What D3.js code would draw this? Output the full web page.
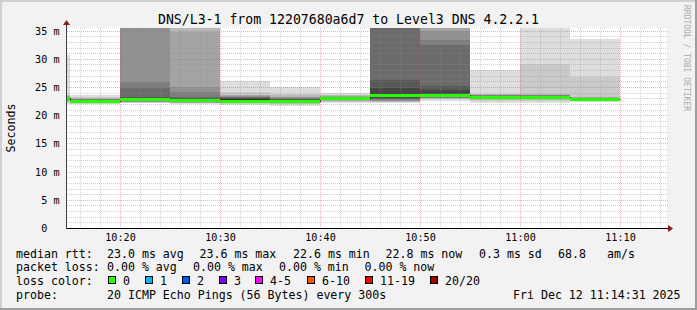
<!DOCTYPE html>
<html>
<head>
<meta charset="utf-8">
<script src="https://cdn.jsdelivr.net/npm/d3@7"></script>
<style>
  body { margin: 0; background: #f2f2f2; }
  svg text { font-family: 'DejaVu Sans Mono', monospace; white-space: pre; fill: #000; }
</style>
</head>
<body>
<svg id="chart" width="697" height="310"></svg>
<script>
// one entry per 5 minute step (end time of the step)
var binEnds = ['10:15:00', '10:20:00', '10:25:00', '10:30:00', '10:35:00', '10:40:00',
               '10:45:00', '10:50:00', '10:55:00', '11:00:00', '11:05:00', '11:10:00'];

// median rtt per step, ms
var medianRtt = [23.0, 22.6, 22.85, 22.7, 22.6, 22.6, 23.05, 23.6, 23.55, 23.3, 23.3, 22.8];

// lost pings per step (out of 20)
var lossCount = [0, 0, 0, 0, 0, 0, 0, 0, 0, 0, 0, 0];

// the 20 sorted ping times of every step, ms (values above the chart top are off scale)
var pingsSorted = [
  [21.9, 22.2, 22.4, 22.55, 22.65, 22.75, 22.8, 22.85, 22.9, 22.95, 23.0, 23.05, 23.1, 23.15, 23.2, 23.3, 23.4, 23.5, 23.6, 30.7],
  [21.9, 22.0, 22.1, 22.2, 22.3, 22.35, 22.4, 22.45, 22.5, 22.55, 22.6, 22.65, 22.7, 22.75, 22.8, 22.85, 22.95, 23.05, 23.2, 23.5],
  [22.1, 22.2, 22.3, 22.35, 22.4, 22.45, 22.5, 22.55, 22.6, 22.75, 22.95, 23.1, 23.3, 24.8, 25.9, 38, 40, 42, 45, 50],
  [22.0, 22.1, 22.2, 22.25, 22.3, 22.4, 22.45, 22.5, 22.55, 22.6, 22.75, 22.9, 23.05, 23.3, 24.1, 25.0, 34.7, 38, 42, 46],
  [21.8, 22.0, 22.15, 22.25, 22.35, 22.4, 22.45, 22.5, 22.55, 22.65, 22.9, 23.0, 23.1, 23.2, 23.3, 23.4, 23.5, 23.6, 24.2, 26.1],
  [21.7, 21.9, 22.05, 22.2, 22.3, 22.35, 22.4, 22.45, 22.5, 22.55, 22.65, 22.75, 22.85, 22.95, 23.05, 23.15, 23.3, 23.5, 23.8, 25.05],
  [22.1, 22.3, 22.45, 22.6, 22.7, 22.8, 22.85, 22.9, 22.95, 23.0, 23.05, 23.1, 23.15, 23.2, 23.25, 23.3, 23.4, 23.5, 23.65, 23.9],
  [22.1, 22.3, 22.4, 22.5, 22.6, 22.75, 22.85, 22.95, 23.1, 23.5, 24.0, 24.8, 26.2, 38, 40, 42, 44, 46, 48, 50],
  [22.5, 22.8, 22.9, 23.0, 23.05, 23.1, 23.15, 23.2, 23.3, 23.45, 23.7, 24.4, 25.2, 32.4, 33.3, 35.0, 38, 40, 43, 46],
  [22.2, 22.5, 22.7, 22.8, 22.9, 23.0, 23.05, 23.1, 23.15, 23.2, 23.3, 23.35, 23.4, 23.45, 23.5, 23.55, 23.6, 23.7, 23.8, 28.0],
  [22.2, 22.5, 22.7, 22.8, 22.9, 23.0, 23.05, 23.1, 23.15, 23.2, 23.3, 23.35, 23.4, 23.45, 23.5, 23.55, 23.6, 23.75, 29.0, 35.4],
  [22.3, 22.45, 22.55, 22.6, 22.65, 22.7, 22.72, 22.75, 22.78, 22.8, 22.85, 22.9, 22.95, 23.0, 23.05, 23.1, 23.2, 23.3, 26.8, 33.5]
];

var yTicks = [0, 5, 10, 15, 20, 25, 30, 35];

var lossLabels = ['0', '1', '2', '3', '4-5', '6-10', '11-19', '20/20'];
var lossColors = ['#26ff00', '#00b8ff', '#0059ff', '#7e00ff', '#ff00ff', '#ff5500', '#ff0000', '#a10000'];
var lossUpper = [0, 1, 2, 3, 5, 10, 19, 20];

var titleText = 'DNS/L3-1 from 12207680a6d7 to Level3 DNS 4.2.2.1';
var rttStats = ['23.0 ms avg', '23.6 ms max', '22.6 ms min', '22.8 ms now', '0.3 ms sd', '68.8', 'am/s'];
var lossStats = ['0.00 % avg', '0.00 % max', '0.00 % min', '0.00 % now'];
var probeText = '20 ICMP Echo Pings (56 Bytes) every 300s';
var stampText = 'Fri Dec 12 11:14:31 2025';

var parseTime = d3.timeParse('%H:%M:%S');
var W = 697, H = 310;
var pLeft = 67, pRight = 667, pTop = 28, pBottom = 228;

var x = d3.scaleTime()
    .domain([parseTime('10:14:40'), parseTime('11:14:40')])
    .range([pLeft, pRight]);
var y = d3.scaleLinear()
    .domain([0, 35.46])
    .range([pBottom, pTop]);

var svg = d3.select('#chart');

//Frame like rrdtool draws it
svg.append('rect').attr('width', W).attr('height', H).attr('fill', '#f2f2f2');
svg.append('rect').attr('width', W).attr('height', 2).attr('fill', '#cfcfcf');
svg.append('rect').attr('width', 2).attr('height', H).attr('fill', '#cfcfcf');
svg.append('rect').attr('y', H - 2).attr('width', W).attr('height', 2).attr('fill', '#9e9e9e');
svg.append('rect').attr('x', W - 2).attr('width', 2).attr('height', H).attr('fill', '#9e9e9e');

svg.append('defs').append('clipPath').attr('id', 'plotClip')
    .append('rect').attr('x', pLeft).attr('y', pTop).attr('width', pRight - pLeft).attr('height', pBottom - pTop);

svg.append('rect')
    .attr('x', pLeft).attr('y', pTop)
    .attr('width', pRight - pLeft).attr('height', pBottom - pTop)
    .attr('fill', '#ffffff');

function smokeShade(ibot) {
    var c = Math.floor(190 / 10 * (10 - ibot)) + 50;
    return d3.rgb(c, c, c).toString();
}

//Smoke: pairs of pings from the outside in, darker towards the middle
var bands = [];
pingsSorted.forEach(function(p, i) {
    var t1 = parseTime(binEnds[i]);
    var t0 = d3.timeMinute.offset(t1, -5);
    for (var ib = 1; ib <= p.length / 2; ib++) {
        bands.push({ t0: t0, t1: t1, lo: p[ib - 1], hi: p[p.length - ib], shade: smokeShade(ib) });
    }
});

var plot = svg.append('g').attr('clip-path', 'url(#plotClip)');

plot.selectAll('.smoke')
    .data(bands)
    .enter().append('rect')
    .attr('class', 'smoke')
    .attr('x', function(d) { return Math.round(x(d.t0)); })
    .attr('width', function(d) { return Math.round(x(d.t1)) - Math.round(x(d.t0)); })
    .attr('y', function(d) { return Math.round(y(d.hi)); })
    .attr('height', function(d) { return Math.round(y(d.lo)) - Math.round(y(d.hi)); })
    .attr('fill', function(d) { return d.shade; });

//Median: thin dark step line with a loss coloured band over it
var medPts = [{ t: d3.timeMinute.offset(parseTime(binEnds[0]), -5), v: medianRtt[0] }];
binEnds.forEach(function(b, i) { medPts.push({ t: parseTime(b), v: medianRtt[i] }); });

plot.append('path')
    .attr('d', d3.line()
        .curve(d3.curveStepBefore)
        .x(function(d) { return Math.round(x(d.t)) + 0.5; })
        .y(function(d) { return Math.round(y(d.v)) + 0.5; })(medPts))
    .attr('fill', 'none')
    .attr('stroke', '#202020')
    .attr('stroke-width', 1);

function lossColor(n) {
    for (var i = 0; i < lossUpper.length; i++) {
        if (n <= lossUpper[i]) return lossColors[i];
    }
    return lossColors[lossColors.length - 1];
}

plot.selectAll('.median')
    .data(binEnds)
    .enter().append('rect')
    .attr('class', 'median')
    .attr('x', function(d) { return Math.round(x(d3.timeMinute.offset(parseTime(d), -5))); })
    .attr('width', function(d) { return Math.round(x(parseTime(d))) - Math.round(x(d3.timeMinute.offset(parseTime(d), -5))); })
    .attr('y', function(d, i) { return Math.round(y(medianRtt[i])) - 1; })
    .attr('height', 3)
    .attr('fill', function(d, i) { return lossColor(lossCount[i]); });

//Grid on top, dotted
var grid = svg.append('g');
var minorY = d3.range(1, 36, 1).filter(function(v) { return v % 5 !== 0; });
var majorT = x.ticks(d3.timeMinute.every(10));
var minorT = x.ticks(d3.timeMinute.every(2)).filter(function(t) { return t.getMinutes() % 10 !== 0; });

grid.selectAll('.hminor').data(minorY).enter().append('line')
    .attr('x1', pLeft).attr('x2', pRight + 1)
    .attr('y1', function(d) { return Math.round(y(d)) + 0.5; })
    .attr('y2', function(d) { return Math.round(y(d)) + 0.5; })
    .attr('stroke', 'rgba(143,143,143,0.4)').attr('stroke-dasharray', '1,1');
grid.selectAll('.vminor').data(minorT).enter().append('line')
    .attr('y1', pTop).attr('y2', pBottom)
    .attr('x1', function(d) { return Math.round(x(d)) + 0.5; })
    .attr('x2', function(d) { return Math.round(x(d)) + 0.5; })
    .attr('stroke', 'rgba(143,143,143,0.4)').attr('stroke-dasharray', '1,1');
grid.selectAll('.hmajor').data(yTicks.slice(1)).enter().append('line')
    .attr('x1', pLeft).attr('x2', pRight + 1)
    .attr('y1', function(d) { return Math.round(y(d)) + 0.5; })
    .attr('y2', function(d) { return Math.round(y(d)) + 0.5; })
    .attr('stroke', 'rgba(222,80,80,0.45)').attr('stroke-dasharray', '1,1');
grid.selectAll('.vmajor').data(majorT).enter().append('line')
    .attr('y1', pTop).attr('y2', pBottom)
    .attr('x1', function(d) { return Math.round(x(d)) + 0.5; })
    .attr('x2', function(d) { return Math.round(x(d)) + 0.5; })
    .attr('stroke', 'rgba(222,80,80,0.45)').attr('stroke-dasharray', '1,1');

//Axes with arrow heads
svg.append('line').attr('x1', pLeft - 1).attr('x2', pRight + 2)
    .attr('y1', pBottom + 0.5).attr('y2', pBottom + 0.5).attr('stroke', '#000');
svg.append('line').attr('x1', pLeft - 0.5).attr('x2', pLeft - 0.5)
    .attr('y1', pBottom + 1).attr('y2', pTop - 4).attr('stroke', '#404040');
svg.append('path').attr('d', 'M' + (pRight + 1) + ',' + (pBottom - 3) + 'L' + (pRight + 6) + ',' + (pBottom + 0.5) + 'L' + (pRight + 1) + ',' + (pBottom + 4) + 'Z')
    .attr('fill', '#8b1a1a');
svg.append('path').attr('d', 'M' + (pLeft - 4) + ',' + (pTop - 3) + 'L' + (pLeft - 0.5) + ',' + (pTop - 8) + 'L' + (pLeft + 3) + ',' + (pTop - 3) + 'Z')
    .attr('fill', '#8b1a1a');

//Tick labels
svg.selectAll('.ylab').data(yTicks).enter().append('text')
    .attr('x', 59.5)
    .attr('y', function(d) { return Math.round(y(d)) + 4; })
    .attr('text-anchor', 'end')
    .style('font-size', '10.15px')
    .text(function(d) { return d === 0 ? '0  ' : d + ' m'; });

svg.selectAll('.xlab').data(majorT).enter().append('text')
    .attr('x', function(d) { return Math.round(x(d)) + 0.5; })
    .attr('y', 241)
    .attr('text-anchor', 'middle')
    .style('font-size', '10.15px')
    .text(d3.timeFormat('%H:%M'));

svg.append('text')
    .attr('x', W / 2).attr('y', 24)
    .attr('text-anchor', 'middle')
    .style('font-size', '13.2px')
    .text(titleText);

svg.append('text')
    .attr('transform', 'translate(15,128) rotate(-90)')
    .attr('text-anchor', 'middle')
    .style('font-size', '11.6px')
    .text('Seconds');

svg.append('text')
    .attr('transform', 'translate(684,5) rotate(90)')
    .style('font-size', '8px')
    .style('fill', '#aaaaaa')
    .text('RRDTOOL / TOBI OETIKER');

//Legend
var legend = svg.append('g').style('font-size', '11.6px');
var rowY = [257.7, 271.3, 284.9, 298.5];
function put(xp, yp, s) {
    legend.append('text').attr('x', xp).attr('y', yp).text(s);
}
put(16, rowY[0], 'median rtt:');
[107, 199.5, 293, 385.5, 479, 558, 607].forEach(function(xp, i) { put(xp, rowY[0], rttStats[i]); });
put(16, rowY[1], 'packet loss:');
[107, 193, 279, 364.5].forEach(function(xp, i) { put(xp, rowY[1], lossStats[i]); });
put(16, rowY[2], 'loss color:');
var boxX = [108.5, 145.5, 182.5, 219.5, 255.5, 307.5, 365.5, 430.5];
boxX.forEach(function(bx, i) {
    legend.append('rect').attr('x', bx).attr('y', 276.5).attr('width', 7).attr('height', 7)
        .attr('fill', lossColors[i]).attr('stroke', '#000').attr('stroke-width', 1);
    put(bx + 14.5, rowY[2], lossLabels[i]);
});
put(16, rowY[3], 'probe:');
put(107, rowY[3], probeText);
put(513, rowY[3], stampText);
</script>
</body>
</html>
